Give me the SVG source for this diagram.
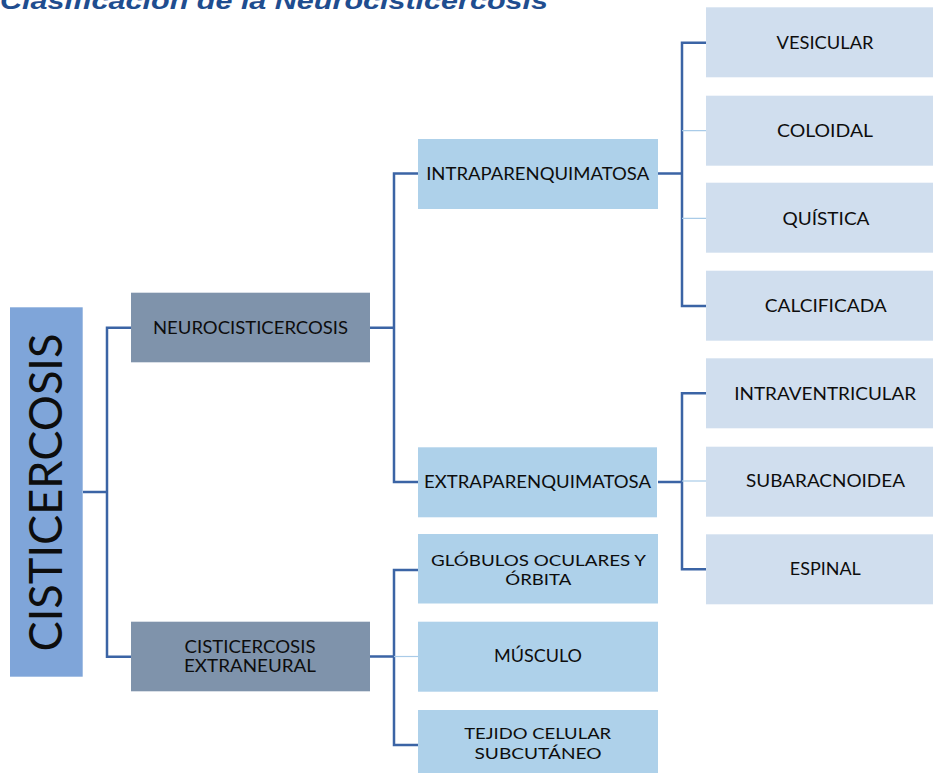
<svg xmlns="http://www.w3.org/2000/svg" width="933" height="773" viewBox="0 0 933 773">
<style>
.t{font-family:Lato,"Open Sans","Liberation Sans",sans-serif;font-size:17px;fill:#0d0d0d;text-anchor:middle;}
.s{font-size:16px;}
.root{fill:#7fa5d9;}
.l1{fill:#7f93ab;}
.l2{fill:#aed1ea;}
.l3{fill:#d0deee;}
.dk{stroke:#3b64a5;stroke-width:2.5;fill:none;}
.lt{stroke:#a9cbe8;stroke-width:1.2;fill:none;}
.title{font-family:"Liberation Sans",Arial,sans-serif;font-weight:bold;font-style:italic;font-size:24px;fill:#1f4d8f;}
</style>
<rect width="933" height="773" fill="#ffffff"/>
<text class="title" x="0" y="9" textLength="548" lengthAdjust="spacingAndGlyphs">Clasificación de la Neurocisticercosis</text>

<g id="connectors">
<path class="dk" d="M83,492H107M131,327.7H107V656.7H131"/>
<path class="dk" d="M370,327.7H394M418,173.5H394V482H418"/>
<path class="dk" d="M658,173.5H682M706,42.7H682V306H706"/>
<path class="lt" d="M682,130.7H706M682,218.3H706"/>
<path class="dk" d="M658,482H682M706,393.3H682V569.3H706"/>
<path class="lt" d="M682,481H706"/>
<path class="dk" d="M370,656.5H394M418,570H394V745H418"/>
<path class="lt" d="M394,656.5H418"/>
</g>

<g id="cisticercosis">
<rect class="root" x="10" y="307.3" width="72.7" height="369.4"/>
<text class="t" transform="translate(62,492.5) rotate(-90)" style="font-size:47px" textLength="318" lengthAdjust="spacingAndGlyphs">CISTICERCOSIS</text>
</g>
<g id="neurocisticercosis">
<rect class="l1" x="131" y="292.7" width="239" height="69.6"/>
<text class="t" x="250.5" y="334" textLength="195" lengthAdjust="spacingAndGlyphs">NEUROCISTICERCOSIS</text>
</g>
<g id="extraneural">
<rect class="l1" x="131" y="621.7" width="239" height="69.6"/>
<text class="t" x="250" y="652.7" textLength="131" lengthAdjust="spacingAndGlyphs">CISTICERCOSIS</text>
<text class="t" x="250" y="671.7" textLength="132" lengthAdjust="spacingAndGlyphs">EXTRANEURAL</text>
</g>
<g id="intraparenquimatosa">
<rect class="l2" x="418" y="139" width="240" height="70"/>
<text class="t" x="537.7" y="180" textLength="223" lengthAdjust="spacingAndGlyphs">INTRAPARENQUIMATOSA</text>
</g>
<g id="extraparenquimatosa">
<rect class="l2" x="418" y="447.3" width="239" height="70"/>
<text class="t" x="537.5" y="488.3" textLength="227" lengthAdjust="spacingAndGlyphs">EXTRAPARENQUIMATOSA</text>
</g>
<g id="globulos">
<rect class="l2" x="418" y="534" width="240" height="69.5"/>
<text class="t s" x="538.5" y="565.7" textLength="215" lengthAdjust="spacingAndGlyphs">GLÓBULOS OCULARES Y</text>
<text class="t s" x="538.3" y="585" textLength="66" lengthAdjust="spacingAndGlyphs">ÓRBITA</text>
</g>
<g id="musculo">
<rect class="l2" x="418" y="621.7" width="240" height="70"/>
<text class="t" x="538" y="662.3" textLength="88" lengthAdjust="spacingAndGlyphs">MÚSCULO</text>
</g>
<g id="tejido">
<rect class="l2" x="418" y="710" width="240" height="70"/>
<text class="t s" x="537.7" y="739" textLength="147" lengthAdjust="spacingAndGlyphs">TEJIDO CELULAR</text>
<text class="t s" x="538" y="759" textLength="127" lengthAdjust="spacingAndGlyphs">SUBCUTÁNEO</text>
</g>
<g id="vesicular">
<rect class="l3" x="706" y="7.3" width="240" height="70"/>
<text class="t" x="825" y="49" textLength="97" lengthAdjust="spacingAndGlyphs">VESICULAR</text>
</g>
<g id="coloidal">
<rect class="l3" x="706" y="95.7" width="240" height="70"/>
<text class="t" x="825" y="136.7" textLength="96" lengthAdjust="spacingAndGlyphs">COLOIDAL</text>
</g>
<g id="quistica">
<rect class="l3" x="706" y="182.7" width="240" height="70"/>
<text class="t" x="826" y="225" textLength="87" lengthAdjust="spacingAndGlyphs">QUÍSTICA</text>
</g>
<g id="calcificada">
<rect class="l3" x="706" y="270.7" width="240" height="70"/>
<text class="t" x="825.8" y="312.3" textLength="122" lengthAdjust="spacingAndGlyphs">CALCIFICADA</text>
</g>
<g id="intraventricular">
<rect class="l3" x="706" y="358.3" width="240" height="70"/>
<text class="t" x="825.2" y="400" textLength="182" lengthAdjust="spacingAndGlyphs">INTRAVENTRICULAR</text>
</g>
<g id="subaracnoidea">
<rect class="l3" x="706" y="446.7" width="240" height="70"/>
<text class="t" x="825.5" y="487.3" textLength="159" lengthAdjust="spacingAndGlyphs">SUBARACNOIDEA</text>
</g>
<g id="espinal">
<rect class="l3" x="706" y="534.3" width="240" height="70"/>
<text class="t" x="825.3" y="575" textLength="71" lengthAdjust="spacingAndGlyphs">ESPINAL</text>
</g>
</svg>
